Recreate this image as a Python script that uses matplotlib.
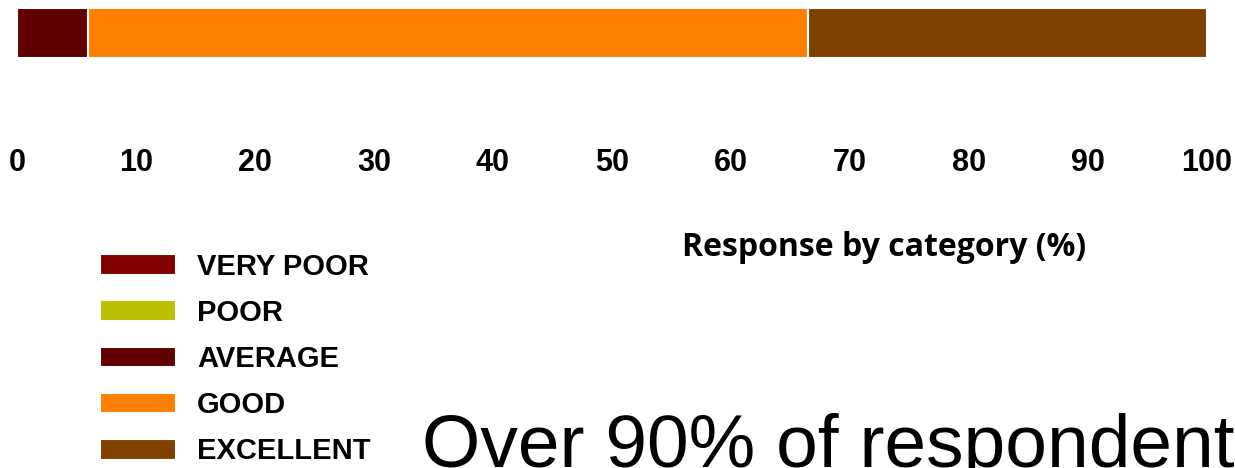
import matplotlib
matplotlib.use('Agg')
import matplotlib.pyplot as plt
import numpy as np

# response shares per rating, percent of respondents
categories = ['VERY POOR', 'POOR', 'AVERAGE', 'GOOD', 'EXCELLENT']
shares = [0.0, 0.0, 6.0, 60.5, 33.5]
colors = ['#800000', '#bcc000', '#600000', '#ff8000', '#804000']
ticks = [0, 10, 20, 30, 40, 50, 60, 70, 80, 90, 100]

W, H = 1235, 468
fig = plt.figure(figsize=(W / 100, H / 100), dpi=100)

bold_sans = ['Liberation Sans', 'DejaVu Sans']

# axes box in pixels: left, right, top, bottom of the bar strip
x0, x1, top, bot = 17, 1207, 8, 58
ax = fig.add_axes([x0 / W, 1 - bot / H, (x1 - x0) / W, (bot - top) / H])

left = 0.0
handles = []
for name, val, col in zip(categories, shares, colors):
    b = ax.barh(0, val, left=left, height=1.0, color=col,
                edgecolor='white', linewidth=1.5, label=name)
    handles.append(b)
    left += val

ax.set_xlim(0, 100)
ax.set_ylim(-0.5, 0.5)
ax.set_yticks([])
ax.set_xticks(ticks)
ax.set_xticklabels([str(t) for t in ticks], family=bold_sans,
                   fontweight='bold', fontsize=22)
ax.tick_params(axis='x', length=0, pad=65)
for s in ax.spines.values():
    s.set_visible(False)

fig.text(884 / W, 1 - 247 / H, 'Response by category (%)',
         family=['Open Sans', 'DejaVu Sans'],
         fontweight='bold', fontsize=23, ha='center', va='center')

leg = fig.legend(handles=handles, labels=categories, loc='upper left',
                 bbox_to_anchor=(100 / W, 1 - 253 / H), frameon=False,
                 borderpad=0, borderaxespad=0, handlelength=2.6,
                 handleheight=0.72, handletextpad=0.72, labelspacing=0.62,
                 prop={'family': bold_sans, 'weight': 'bold', 'size': 21})

fig.text(422 / W, 1 - 467 / H, 'Over 90% of respondents',
         family=['Liberation Sans', 'DejaVu Sans'],
         fontsize=54, ha='left', va='baseline')

fig.savefig('out.png', dpi=100)
